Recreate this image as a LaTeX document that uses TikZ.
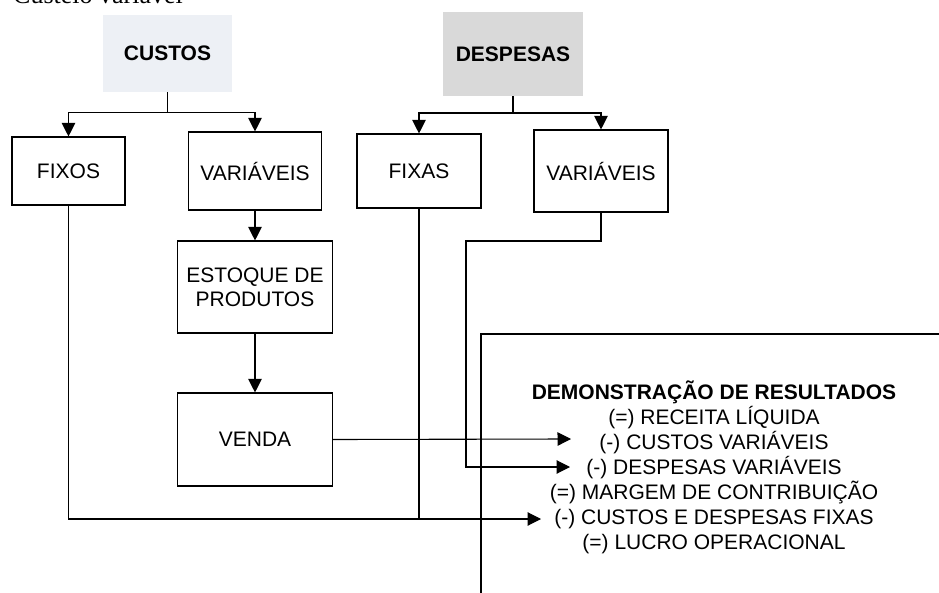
\documentclass[tikz,border=0pt]{standalone}
\usepackage{fontspec}
\setmainfont{Liberation Sans}
\newfontfamily\serifcap{Liberation Serif}
\usetikzlibrary{arrows.meta}
\definecolor{custosfill}{RGB}{237,240,245}
\definecolor{despfill}{RGB}{217,217,217}
\tikzset{
  box/.style={draw=black, line width=1.1pt, align=center, inner sep=0pt,
    font=\fontsize{21}{24}\selectfont},
  headbox/.style={align=center, inner sep=0pt,
    font=\fontsize{21}{24}\selectfont\bfseries},
  wire/.style={line width=1.1pt},
  arr/.style={line width=1.1pt, -{Triangle[length=13.5pt,width=13.5pt]}}
}
\begin{document}
\begin{tikzpicture}[x=1pt,y=-1pt]
\useasboundingbox (0,0) rectangle (939,593);
\clip (0,0) rectangle (939,593);
\fill[white] (0,0) rectangle (939,593);

\node[anchor=base west, inner sep=0pt, font=\serifcap\fontsize{26}{30}\selectfont] (title) at (13,4) {Custeio variável};

% header boxes
\node[headbox, fill=custosfill, minimum width=129pt, minimum height=77pt] (custos) at (167.5,53.5) {CUSTOS};
\node[headbox, fill=despfill, minimum width=140pt, minimum height=84pt] (despesas) at (513,54) {DESPESAS};

% second level
\node[box, minimum width=113pt, minimum height=68pt] (fixos) at (68.5,171) {FIXOS};
\node[box, minimum width=133pt, minimum height=78pt] (varc) at (255,171) {VARIÁVEIS};
\node[box, minimum width=124pt, minimum height=74pt] (fixas) at (419,171) {FIXAS};
\node[box, minimum width=134pt, minimum height=82pt] (vard) at (601,171) {VARIÁVEIS};

% custos variaveis chain
\node[box, minimum width=155pt, minimum height=92pt] (estoque) at (255,287) {ESTOQUE DE\\PRODUTOS};
\node[box, minimum width=155pt, minimum height=93pt] (venda) at (255,439.5) {VENDA};

% demonstration box
\coordinate (dtl) at (481,334);
\coordinate (dbl) at (481,600);
\coordinate (dtr) at (950,334);
\draw[wire] (dbl) -- (dtl) -- (dtr);
\node[align=center, inner sep=0pt, font=\fontsize{21}{25}\selectfont] (dre) at (714,467)
  {\textbf{DEMONSTRAÇÃO DE RESULTADOS}\\
   (=) RECEITA LÍQUIDA\\
   (-) CUSTOS VARIÁVEIS\\
   (-) DESPESAS VARIÁVEIS\\
   (=) MARGEM DE CONTRIBUIÇÃO\\
   (-) CUSTOS E DESPESAS FIXAS\\
   (=) LUCRO OPERACIONAL};

% junctions and arrow ends
\coordinate (cj) at (167.5,112.5);
\coordinate (dj) at (513,113);
\coordinate (a1) at (571,439);
\coordinate (a2) at (570,467);
\coordinate (a3) at (541,519);
\coordinate (fb) at (68.5,519);
\coordinate (fxb) at (419,519);
\coordinate (v1) at (601,241);
\coordinate (v2) at (466,241);
\coordinate (v3) at (466,467);

% connectors: custos
\draw[wire] (custos.south) -- (cj);
\draw[arr] (cj) -| (fixos.north);
\draw[arr] (cj) -| (varc.north);
\draw[arr] (varc.south) -- (estoque.north);
\draw[arr] (estoque.south) -- (venda.north);
\draw[arr] (venda.east) -- (a1);
\draw[arr] (fixos.south) -- (fb) -- (a3);

% connectors: despesas
\draw[wire] (despesas.south) -- (dj);
\draw[arr] (dj) -| (fixas.north);
\draw[arr] (dj) -| (vard.north);
\draw[wire] (fixas.south) -- (fxb);
\draw[arr] (vard.south) -- (v1) -- (v2) -- (v3) -- (a2);
\end{tikzpicture}
\end{document}
